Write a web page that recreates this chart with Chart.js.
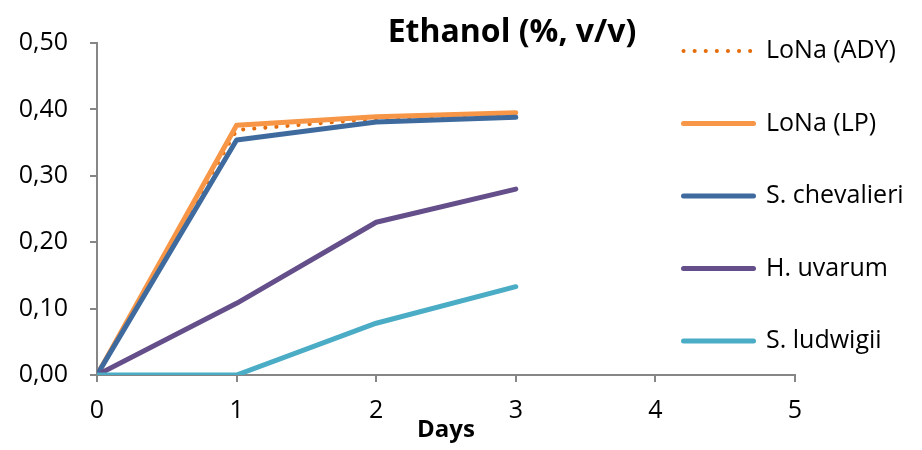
<!DOCTYPE html>
<html>
<head>
<meta charset="utf-8">
<script src="https://cdn.jsdelivr.net/npm/chart.js@4"></script>
<style>
  html, body { margin: 0; padding: 0; background: #fff; }
  #wrap { width: 922px; height: 450px; }
</style>
</head>
<body>
<div id="wrap"><canvas id="ethanolChart"></canvas></div>
<script>
// values
const days = [0, 1, 2, 3];
const lonaADY = [0, 0.369, 0.386, 0.393];
const lonaLP = [0, 0.376, 0.389, 0.395];
const sChevalieri = [0, 0.354, 0.381, 0.388];
const hUvarum = [0, 0.108, 0.230, 0.280];
const sLudwigii = [0, 0, 0.078, 0.133];
const yTicks = [0, 0.1, 0.2, 0.3, 0.4, 0.5];
const xTicks = [0, 1, 2, 3, 4, 5];

const axisGray = '#868686';
const fontFamily = '"Open Sans", sans-serif';

function toPoints(ys) {
    return ys.map((y, i) => ({ x: days[i], y: y }));
}

function makeSeries(label, values, color, order, dash) {
    return {
        label: label,
        data: toPoints(values),
        borderColor: color,
        backgroundColor: color,
        borderWidth: dash ? 4 : 5,
        borderDash: dash || [],
        borderCapStyle: 'round',
        borderJoinStyle: 'round',
        pointRadius: 0,
        pointHoverRadius: 0,
        tension: 0,
        order: order
    };
}

// title drawn over the plot, Excel style (not centered on the canvas)
const titlePlugin = {
    id: 'excelTitle',
    afterDraw(chart) {
        const ctx = chart.ctx;
        ctx.save();
        ctx.font = 'bold 32px ' + fontFamily;
        ctx.fillStyle = '#000';
        ctx.textAlign = 'center';
        ctx.textBaseline = 'alphabetic';
        ctx.fillText('Ethanol (%, v/v)', 512, 42);
        ctx.restore();
    }
};

// legend overlaps the right part of the plot like in the original
const legendPlacer = {
    id: 'legendPlacer',
    beforeDraw(chart) {
        const lg = chart.legend;
        if (!lg) return;
        lg.left = 636;
        lg.right = 922;
        lg.top = -9;
        lg.bottom = 460;
    }
};

const ctx = document.getElementById('ethanolChart').getContext('2d');
new Chart(ctx, {
    type: 'line',
    data: {
        datasets: [
            makeSeries('LoNa (ADY)', lonaADY, '#E46C0A', 5, [0.1, 11]),
            makeSeries('LoNa (LP)', lonaLP, '#F79646', 4),
            makeSeries('S. chevalieri', sChevalieri, '#3E6A9E', 3),
            makeSeries('H. uvarum', hUvarum, '#654F8A', 2),
            makeSeries('S. ludwigii', sLudwigii, '#4BACC6', 1)
        ]
    },
    options: {
        responsive: true,
        maintainAspectRatio: false,
        animation: false,
        layout: { padding: { left: 0, right: 126, top: 43, bottom: 0 } },
        plugins: {
            tooltip: { enabled: false },
            title: { display: false },
            legend: {
                position: 'right',
                align: 'start',
                maxWidth: 1,
                labels: {
                    usePointStyle: true,
                    pointStyle: 'line',
                    pointStyleWidth: 70,
                    boxHeight: 25,
                    padding: 47.5,
                    color: '#000',
                    font: { family: fontFamily, size: 25 },
                    sort: (a, b) => a.datasetIndex - b.datasetIndex,
                    generateLabels: (chart) => {
                        const items = Chart.defaults.plugins.legend.labels.generateLabels(chart);
                        items.forEach(item => {
                            const ds = chart.data.datasets[item.datasetIndex];
                            item.lineDash = ds.borderDash;
                            item.lineCap = 'round';
                            item.lineWidth = ds.borderWidth;
                        });
                        return items;
                    }
                }
            }
        },
        scales: {
            x: {
                type: 'linear',
                min: 0,
                max: 5,
                afterBuildTicks: (scale) => { scale.ticks = xTicks.map(v => ({ value: v })); },
                afterFit: (scale) => { scale.height = 75; },
                grid: { drawOnChartArea: false, drawTicks: true, tickLength: 7, color: axisGray, lineWidth: 2 },
                border: { color: axisGray, width: 2 },
                ticks: {
                    color: '#000',
                    padding: 14,
                    maxRotation: 0,
                    font: { family: fontFamily, size: 25 }
                },
                title: {
                    display: true,
                    text: 'Days',
                    color: '#000',
                    padding: { top: 0, bottom: 5 },
                    font: { family: fontFamily, size: 24, weight: 'bold' }
                }
            },
            y: {
                min: 0,
                max: 0.5,
                afterBuildTicks: (scale) => { scale.ticks = yTicks.map(v => ({ value: v })); },
                afterFit: (scale) => { scale.width = 97; },
                grid: { drawOnChartArea: false, drawTicks: true, tickLength: 7, color: axisGray, lineWidth: 2 },
                border: { color: axisGray, width: 2 },
                ticks: {
                    color: '#000',
                    padding: 22,
                    font: { family: fontFamily, size: 25 },
                    callback: (v) => Number(v).toFixed(2).replace('.', ',')
                }
            }
        }
    },
    plugins: [titlePlugin, legendPlacer]
});
</script>
</body>
</html>
